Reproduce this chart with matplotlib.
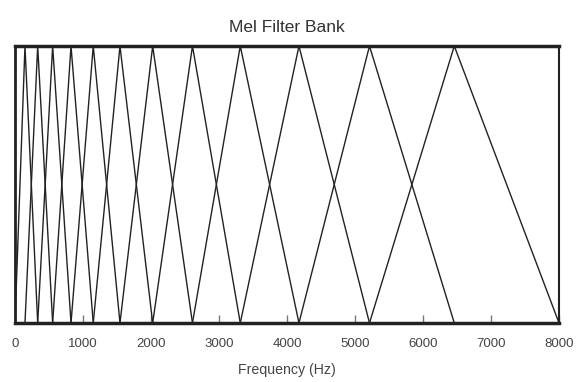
import matplotlib
matplotlib.use("Agg")
import matplotlib.pyplot as plt

# Filter edge / centre frequencies (Hz)
edges_hz = [0, 147, 334, 554, 824, 1151, 1544, 2025, 2610, 3313, 4176, 5213, 6460, 8000]
tick_values = [0, 1000, 2000, 3000, 4000, 5000, 6000, 7000, 8000]
tick_labels = ["0", "1000", "2000", "3000", "4000", "5000", "6000", "7000", "8000"]

plt.rcParams['font.family'] = ['Liberation Sans', 'DejaVu Sans']

fig = plt.figure(figsize=(5.76, 3.82), dpi=100)
ax = fig.add_axes([0.026, 0.1545, 0.9445, 0.725])

for i in range(1, len(edges_hz) - 1):
    ax.plot([edges_hz[i - 1], edges_hz[i], edges_hz[i + 1]], [0, 1, 0],
            color="#222222", lw=1.0, solid_joinstyle="miter")

ax.set_xlim(0, 8000)
ax.set_ylim(0, 1)
ax.set_xticks(tick_values)
ax.set_xticklabels(tick_labels, color="#444444", fontsize=9.5)
ax.set_yticks([])
ax.tick_params(axis="x", direction="in", length=6, width=1, color="#777777", pad=11)
for side, sp in ax.spines.items():
    sp.set_color("#222222")
    sp.set_linewidth(1.5)
ax.spines["top"].set_linewidth(2.5)
ax.spines["bottom"].set_linewidth(2.5)
ax.spines["left"].set_linewidth(2.0)

ax.set_title("Mel Filter Bank", fontsize=12.5, color="#333333", pad=10)
ax.set_xlabel("Frequency (Hz)", fontsize=10.2, color="#444444", labelpad=9)

fig.savefig("out.png", dpi=100)
